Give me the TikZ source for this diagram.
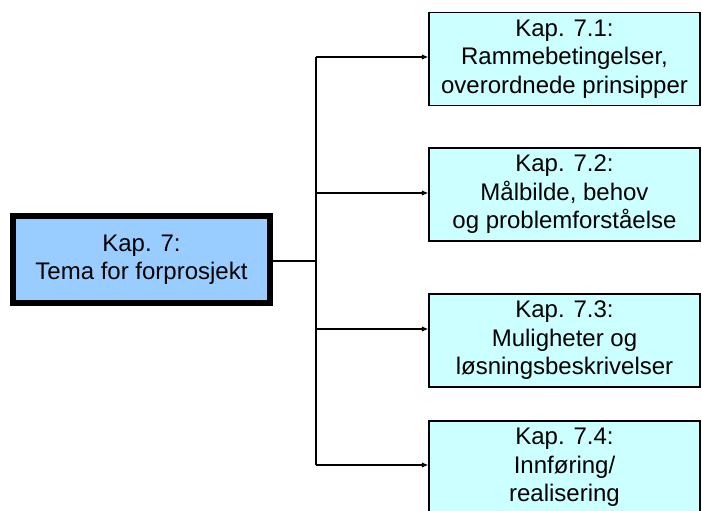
\documentclass[tikz,border=0pt]{standalone}
\usepackage{fontspec}
\setmainfont{Liberation Sans}
\usetikzlibrary{arrows.meta}
\definecolor{mainfill}{HTML}{99CCFF}
\definecolor{subfill}{HTML}{CCFFFF}
\begin{document}
\begin{tikzpicture}[x=1pt,y=-1pt,
  mainbox/.style={draw=black, line width=6pt, fill=mainfill, align=center,
    minimum width=257pt, minimum height=87pt, inner sep=0pt,
    font=\fontsize{24}{27.5}\selectfont},
  chapbox/.style={draw=black, line width=1.3pt, fill=subfill, align=center,
    minimum width=271pt, minimum height=93pt, inner sep=0pt,
    font=\fontsize{24}{28.5}\selectfont},
  link/.style={draw=black, line width=1.2pt},
  feed/.style={link, -{Latex[length=6.5pt,width=5.5pt]}}
]
\useasboundingbox (0,0) rectangle (702,511);
\clip (0,0) rectangle (702,511);

% main chapter box
\node[mainbox] (main) at (141.5,259.5) {Kap. 7:\\Tema for forprosjekt};

% sub-chapter boxes
\node[chapbox] (k1) at (564.5,59)    {Kap. 7.1:\\Rammebetingelser,\\overordnede prinsipper};
\node[chapbox] (k2) at (564.5,194.5) {Kap. 7.2:\\Målbilde, behov\\og problemforståelse};
\node[chapbox] (k3) at (564.5,340.5) {Kap. 7.3:\\Muligheter og\\løsningsbeskrivelser};
\node[chapbox] (k4) at (564.5,467.5) {Kap. 7.4:\\Innføring/\\realisering};

% branch points on the vertical bus
\coordinate (hub) at (316,261);
\coordinate (b1) at (316,57);
\coordinate (b2) at (316,193);
\coordinate (b3) at (316,329);
\coordinate (b4) at (316,465);

\draw[link] (main.east |- hub) -- (hub);
\draw[link] (b1) -- (b4);
\draw[feed] (b1) -- (k1.west |- b1);
\draw[feed] (b2) -- (k2.west |- b2);
\draw[feed] (b3) -- (k3.west |- b3);
\draw[feed] (b4) -- (k4.west |- b4);
\end{tikzpicture}
\end{document}
